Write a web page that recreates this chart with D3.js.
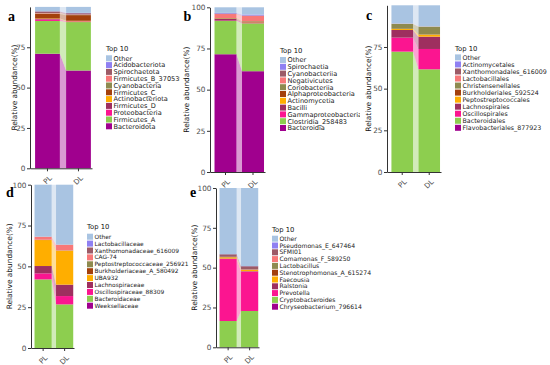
<!DOCTYPE html>
<html><head><meta charset="utf-8">
<script src="https://cdn.jsdelivr.net/npm/d3@7"></script>
<style>body{margin:0;background:#fff}svg{display:block}</style>
</head><body><svg id="chart" width="550" height="365"></svg>
<script>
const groups = ["PL", "DL"];
const palette = ["#a9c4e2","#8f80f2","#9c5a66","#f87878","#8e8a4f","#a3400c","#ffae00","#9e2f5f","#fb1590","#8dce4f","#a0008e"];

// a: phylum
const phylumTaxa = ["Other","Acidobacteriota","Spirochaetota","Firmicutes_B_370539","Cyanobacteria","Firmicutes_C","Actinobacteriota","Firmicutes_D","Proteobacteria","Firmicutes_A","Bacteroidota"];
const phylumPL = [2.7,0.1,1.0,0.3,0.3,2.8,0.3,0.3,0.9,20.3,71.0];
const phylumDL = [3.7,0.2,0.8,0.2,0.2,3.5,0.3,0.2,0.3,30.0,60.6];

// b: class
const classTaxa = ["Other","Spirochaetia","Cyanobacteriia","Negativicutes","Coriobacteriia","Alphaproteobacteria","Actinomycetia","Bacilli","Gammaproteobacteria","Clostridia_258483","Bacteroidia"];
const classPL = [3.4,0.4,0.3,2.4,0.2,0.2,0.2,1.0,0.2,20.2,71.5];
const classDL = [4.4,0.6,0.2,3.2,0.2,0.3,0.2,0.4,0.2,29.1,61.2];

// c: order
const orderTaxa = ["Other","Actinomycetales","Xanthomonadales_616009","Lactobacillales","Christensenellales","Burkholderiales_592524","Peptostreptococcales","Lachnospirales","Oscillospirales","Bacteroidales","Flavobacteriales_877923"];
const orderPL = [11.0,0.0,0.1,0.1,2.9,0.1,0.6,4.6,8.4,72.2,0.0];
const orderDL = [12.7,0.0,0.0,0.1,4.7,0.1,1.2,7.4,12.2,61.6,0.0];

// d: family
const familyTaxa = ["Other","Lactobacillaceae","Xanthomonadaceae_616009","CAG-74","Peptostreptococcaceae_256921","Burkholderiaceae_A_580492","UBA932","Lachnospiraceae","Oscillospiraceae_88309","Bacteroidaceae","Weeksellaceae"];
const familyPL = [31.8,0.0,0.1,1.8,0.1,0.1,15.9,4.5,3.7,42.0,0.0];
const familyDL = [36.7,0.0,0.1,3.4,0.1,0.1,20.8,7.0,5.1,26.7,0.0];

// e: genus
const genusTaxa = ["Other","Pseudomonas_E_647464","SFMI01","Comamonas_F_589250","Lactobacillus","Stenotrophomonas_A_615274","Faecousia","Ralstonia","Prevotella","Cryptobacteroides","Chryseobacterium_796614"];
const genusPL = [41.5,0.1,1.6,0.1,0.1,0.1,0.8,0.3,38.9,16.5,0.0];
const genusDL = [49.0,0.1,2.0,0.1,0.1,0.1,0.8,0.3,24.7,22.8,0.0];

const yTicksShort = [0, 25, 50, 75];
const yTicksFull = [0, 25, 50, 75, 100];
const legendTitle = "Top 10";
const yTitle = "Relative abundance(%)";

const panels = [
  {letter:"a", taxa:phylumTaxa, pl:phylumPL, dl:phylumDL, ticks:yTicksShort, legFont:6.6,
   ax:30, r1:92, y0:168.3, y1:6.9, lx:8, ly:21, ytx:16.5, legX:106, legTY:49, legY:58.3, legStep:6.8, clip:[0,0,180,189]},
  {letter:"b", taxa:classTaxa, pl:classPL, dl:classDL, ticks:yTicksFull, legFont:6.6,
   ax:210, r1:265, y0:172, y1:7.3, lx:183.5, ly:21, ytx:188.5, legX:280, legTY:51, legY:60, legStep:6.8, clip:[180,0,180,189]},
  {letter:"c", taxa:orderTaxa, pl:orderPL, dl:orderDL, ticks:yTicksShort, legFont:6.3,
   ax:387, r1:441, y0:172, y1:5.3, lx:366, ly:20, ytx:371, legX:455, legTY:49, legY:57.4, legStep:7.04, clip:[360,0,190,189]},
  {letter:"d", taxa:familyTaxa, pl:familyPL, dl:familyDL, ticks:yTicksFull, legFont:5.9,
   ax:31, r1:74, y0:348, y1:184.7, lx:6, ly:197, ytx:12, legX:87, legTY:227, legY:236.7, legStep:6.9, clip:[0,180,190,185]},
  {letter:"e", taxa:genusTaxa, pl:genusPL, dl:genusDL, ticks:yTicksFull, legFont:6.1,
   ax:216, r1:259, y0:347.3, y1:188, lx:190, ly:197, ytx:196.5, legX:272, legTY:230, legY:238.7, legStep:6.8, clip:[188,184,362,181]}
];

const svg = d3.select("#chart");
const defs = svg.append("defs");
const FONT = "DejaVu Sans, sans-serif";

panels.forEach((P, idx) => {
  defs.append("clipPath").attr("id", "clip" + idx).append("rect")
    .attr("x", P.clip[0]).attr("y", P.clip[1]).attr("width", P.clip[2]).attr("height", P.clip[3]);
  const g = svg.append("g").attr("clip-path", `url(#clip${idx})`);

  const x = d3.scaleBand().domain(groups).range([P.ax, P.r1]).paddingInner(0.2).paddingOuter(0.1).align(0.82);
  const y = d3.scaleLinear().domain([0, 100]).range([P.y0, P.y1]);
  const color = d3.scaleOrdinal().domain(P.taxa).range(palette);

  const rows = groups.map((gn, i) => {
    const o = {group: gn};
    P.taxa.forEach((t, j) => { o[t] = (i === 0 ? P.pl : P.dl)[j]; });
    return o;
  });
  const keys = P.taxa.slice().reverse();
  const series = d3.stack().keys(keys)(rows);

  // flows between bars
  const area = d3.area().x(d => d.x).y0(d => d.y0).y1(d => d.y1);
  series.forEach(s => {
    const pts = [
      {x: x("PL") + x.bandwidth(), y0: y(s[0][0]), y1: y(s[0][1])},
      {x: x("DL"), y0: y(s[1][0]), y1: y(s[1][1])}
    ];
    g.append("path").attr("d", area(pts)).attr("fill", color(s.key)).attr("fill-opacity", 0.4);
  });

  // bars
  series.forEach(s => {
    g.selectAll(null).data(s).enter().append("rect")
      .attr("x", d => x(d.data.group))
      .attr("width", x.bandwidth())
      .attr("y", d => y(d[1]))
      .attr("height", d => Math.max(0, y(d[0]) - y(d[1])))
      .attr("fill", color(s.key));
  });

  // y axis
  const ya = g.append("g").attr("transform", `translate(${P.ax},0)`)
    .call(d3.axisLeft(y).tickValues(P.ticks).tickSize(3).tickSizeOuter(0).tickPadding(1.5));
  ya.select(".domain").attr("stroke", "#333").attr("stroke-width", 1);
  ya.selectAll(".tick line").attr("stroke", "#333");
  ya.selectAll(".tick text").attr("font-family", FONT).attr("font-size", 7.3).attr("fill", "#4d4d4d");

  // x axis
  const xa = g.append("g").attr("transform", `translate(0,${P.y0})`)
    .call(d3.axisBottom(x).tickSize(3).tickSizeOuter(0));
  xa.select(".domain").attr("stroke", "#333").attr("stroke-width", 1);
  xa.selectAll(".tick line").attr("stroke", "#333");
  xa.selectAll(".tick text").attr("font-family", FONT).attr("font-size", 7.2).attr("fill", "#4d4d4d")
    .attr("text-anchor", "end").attr("dy", "0.35em").attr("y", 0).attr("x", 0)
    .attr("transform", "translate(3,8.5) rotate(-45)");

  // y title
  g.append("text").attr("transform", `translate(${P.ytx},${(P.y0 + P.y1) / 2}) rotate(-90)`)
    .attr("text-anchor", "middle").attr("font-family", FONT).attr("font-size", 7.4).attr("fill", "#111")
    .text(yTitle);

  // panel letter
  g.append("text").attr("x", P.lx).attr("y", P.ly)
    .attr("font-family", "Liberation Serif, serif").attr("font-weight", "bold").attr("font-size", 14)
    .attr("fill", "#000").text(P.letter);

  // legend
  const lg = g.append("g");
  lg.append("text").attr("x", P.legX).attr("y", P.legTY + 2.4)
    .attr("font-family", FONT).attr("font-size", 6.8).attr("fill", "#111").text(legendTitle);
  P.taxa.forEach((t, j) => {
    const cy = P.legY + j * P.legStep;
    lg.append("rect").attr("x", P.legX).attr("y", cy - 3).attr("width", 6).attr("height", 6).attr("fill", color(t));
    lg.append("text").attr("x", P.legX + 7.5).attr("y", cy).attr("dy", "0.35em")
      .attr("font-family", FONT).attr("font-size", P.legFont).attr("fill", "#222").text(t);
  });
});
</script></body></html>
